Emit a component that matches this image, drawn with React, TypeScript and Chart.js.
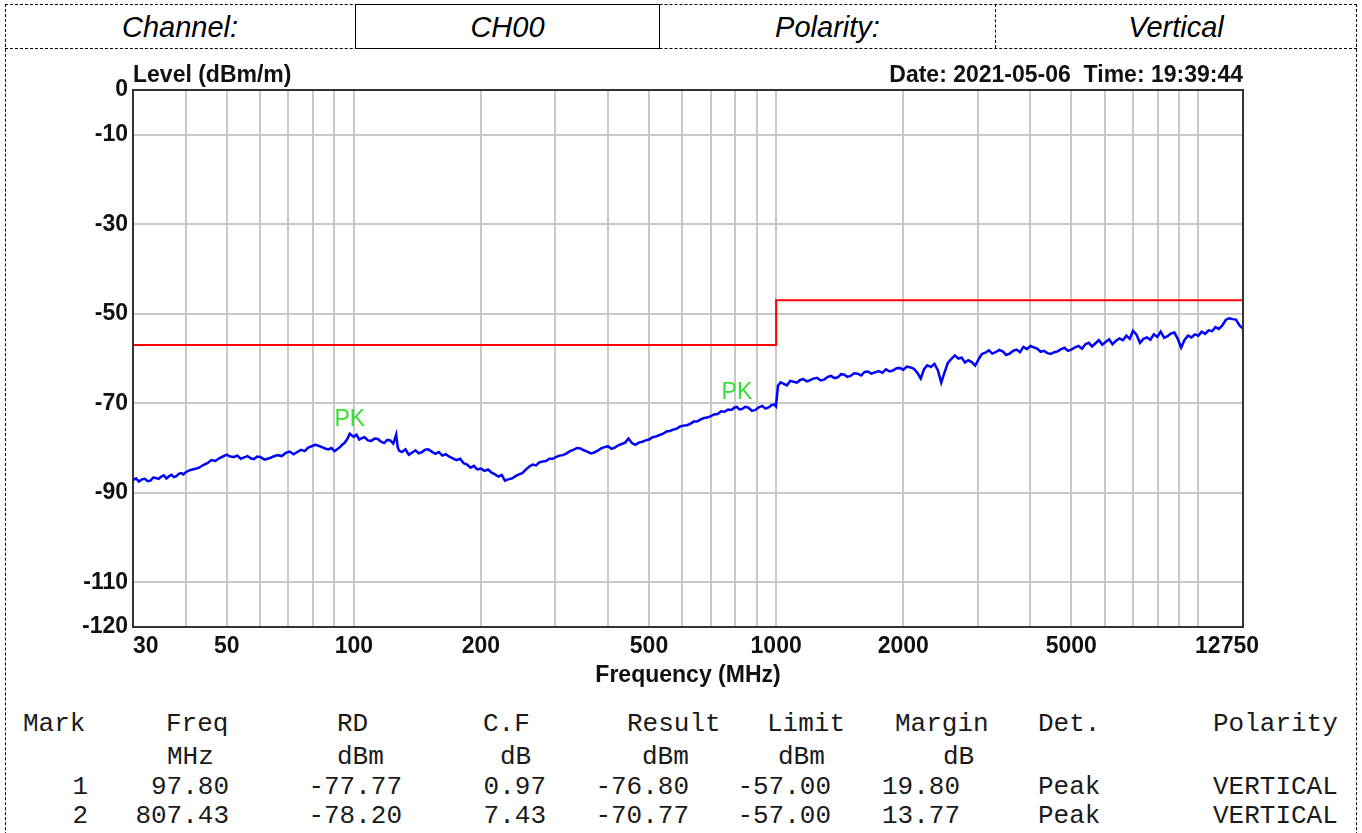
import React, { useEffect, useRef } from "react";
import { Chart, registerables } from "chart.js";

Chart.register(...registerables);

// ---------- data ----------
const headerCells = ["Channel:", "CH00", "Polarity:", "Vertical"];
const yAxisTitle = "Level (dBm/m)";
const xAxisTitle = "Frequency (MHz)";
const dateText = "Date: 2021-05-06  Time: 19:39:44";

const yTickValues = [-120, -110, -90, -70, -50, -30, -10, 0];
const xGridValues = [30, 40, 50, 60, 70, 80, 90, 100, 200, 300, 400, 500, 600, 700, 800, 900, 1000, 2000, 3000, 4000, 5000, 6000, 7000, 8000, 9000, 10000, 12750];
const xLabelValues = [30, 50, 100, 200, 500, 1000, 2000, 5000, 12750];

const limitFreqMHz = [30, 1000, 1000, 12750];
const limitLevel = [-57, -57, -47, -47];

const traceFreqMHz = [
  30, 30.5, 31, 31.5, 32, 32.5, 33, 33.5, 34, 34.5,
  35, 35.5, 36, 36.5, 37, 37.5, 38, 38.5, 39, 39.5,
  40, 41, 42, 43, 44, 45, 46, 47, 48, 49,
  50, 51, 52, 53, 54, 55, 56, 57, 58, 59,
  60, 61.5, 63, 64.5, 66, 67.5, 69, 70.5, 72, 73.5,
  75, 76.5, 78, 79.5, 81, 82.5, 84, 85.5, 87, 88.5,
  90, 91.5, 93, 94, 95, 96.5, 97.8, 99, 100, 101.5,
  103, 104.5, 106, 108, 110, 112, 114, 116, 118, 120,
  122, 124, 126, 127, 128, 130, 132.5, 135, 137.5, 140,
  142.5, 145, 147.5, 150, 153, 156, 159, 162, 165, 168,
  171.5, 175, 178.5, 182, 185.5, 189, 192.5, 196, 200, 204,
  208, 212, 216, 220, 224, 228, 232, 237, 241.5, 246,
  250.5, 255, 260, 265, 270, 275, 280, 285, 290.5, 296,
  301.5, 307, 313, 319, 325, 331, 337.5, 344, 350.5, 357,
  364, 371, 378, 385, 392.5, 400, 407.5, 415, 423, 431,
  439, 447, 455.5, 464, 473, 482, 491, 500, 510, 520,
  530, 540, 550, 560, 570.5, 581, 592, 603, 614.5, 626,
  638, 650, 662.5, 675, 687.5, 700, 713.5, 727, 741, 755,
  769.5, 784, 796, 807.43, 819, 830, 845, 860, 876.5, 893,
  910, 927, 944.5, 962, 976, 990, 999, 1010, 1025, 1040,
  1060, 1080, 1100, 1120, 1140, 1160, 1180, 1200, 1225, 1250,
  1275, 1300, 1325, 1350, 1375, 1400, 1425, 1450, 1475, 1500,
  1530, 1560, 1590, 1620, 1650, 1680, 1715, 1750, 1785, 1820,
  1855, 1890, 1925, 1960, 2000, 2040, 2080, 2120, 2160, 2200,
  2240, 2280, 2325, 2370, 2415, 2460, 2505, 2550, 2600, 2650,
  2700, 2750, 2800, 2850, 2905, 2960, 3015, 3070, 3130, 3190,
  3250, 3310, 3375, 3440, 3505, 3570, 3640, 3710, 3780, 3850,
  3925, 4000, 4075, 4150, 4230, 4310, 4390, 4470, 4555, 4640,
  4730, 4820, 4910, 5000, 5100, 5200, 5300, 5400, 5500, 5600,
  5705, 5810, 5920, 6030, 6145, 6260, 6380, 6500, 6625, 6750,
  6875, 7000, 7135, 7270, 7410, 7550, 7695, 7840, 7990, 8140,
  8295, 8450, 8610, 8770, 8935, 9100, 9275, 9450, 9630, 9810,
  9995, 10180, 10375, 10570, 10770, 10970, 11180, 11390, 11605, 11820,
  12045, 12270, 12510, 12750,
];
const traceLevel = [
  -87.2, -86.8, -87.5, -87.0, -86.9, -87.4, -87.3, -86.6, -86.7, -86.9,
  -86.4, -86.1, -86.8, -86.3, -86.0, -86.5, -86.3, -85.8, -85.6, -85.9,
  -85.4, -84.9, -84.7, -84.4, -83.8, -83.4, -82.7, -82.9, -82.3, -81.9,
  -81.5, -81.9, -82.0, -81.7, -82.4, -82.1, -81.8, -82.3, -82.5, -81.9,
  -82.0, -82.6, -82.3, -81.9, -81.6, -81.8, -81.1, -80.8, -81.4, -80.9,
  -80.4, -80.7, -79.9, -79.6, -79.3, -79.5, -79.8, -80.1, -80.3, -80.0,
  -80.7, -80.2, -79.7, -79.2, -78.9, -78.0, -76.8, -77.2, -77.5, -77.0,
  -78.1, -77.8, -77.6, -78.3, -78.4, -77.9, -78.0, -78.6, -78.9, -78.2,
  -78.3, -79.0, -77.0, -79.8, -80.6, -80.9, -80.3, -81.5, -81.0, -80.5,
  -81.2, -80.9, -80.4, -80.3, -80.8, -81.3, -80.9, -81.7, -81.4, -81.9,
  -82.3, -82.7, -82.4, -83.4, -83.7, -84.4, -84.0, -84.8, -84.6, -85.1,
  -84.8, -85.5, -85.9, -86.4, -86.0, -87.3, -87.0, -86.8, -86.3, -85.9,
  -85.6, -84.9, -84.2, -83.7, -83.9, -83.2, -83.0, -82.9, -82.4, -82.4,
  -82.0, -81.7, -81.6, -81.2, -80.7, -80.4, -80.0, -80.1, -80.5, -80.8,
  -81.2, -81.0, -80.6, -80.1, -79.8, -79.6, -80.2, -79.9, -79.4, -79.1,
  -78.8, -77.9, -78.9, -79.3, -78.8, -78.6, -78.3, -78.1, -77.6, -77.4,
  -77.1, -76.8, -76.3, -76.2, -75.9, -75.7, -75.2, -75.0, -74.9, -74.6,
  -74.1, -74.1, -73.6, -73.3, -73.2, -72.9, -72.5, -72.4, -71.8, -71.9,
  -71.4, -71.5, -71.0, -70.8, -71.4, -71.3, -70.8, -71.0, -71.7, -71.5,
  -70.9, -70.6, -71.2, -70.9, -70.4, -70.3, -70.7, -66.1, -65.3, -65.6,
  -66.0, -65.0, -65.2, -65.4, -64.8, -64.6, -65.1, -64.9, -64.5, -64.3,
  -64.9, -64.7, -64.1, -63.9, -64.4, -64.2, -63.5, -63.6, -64.1, -63.9,
  -63.3, -63.4, -63.8, -63.0, -62.9, -63.4, -63.1, -62.8, -63.2, -62.4,
  -62.9, -62.7, -62.2, -62.1, -62.5, -61.8, -62.0, -62.3, -63.2, -64.5,
  -62.4, -61.5, -61.9, -61.2, -62.6, -65.4, -63.1, -61.0, -60.1, -59.3,
  -60.0, -59.8, -60.9, -60.4, -60.8, -61.6, -60.2, -59.0, -58.7, -58.2,
  -58.9, -58.6, -58.1, -58.4, -59.2, -58.9, -58.3, -58.0, -58.6, -57.4,
  -57.9, -57.2, -57.5, -57.8, -58.5, -58.3, -58.8, -59.0, -58.6, -58.4,
  -57.9, -57.6, -58.3, -58.0, -57.5, -57.2, -57.8, -56.8, -56.5, -57.3,
  -56.6, -55.9, -56.9, -56.3, -55.7, -56.8, -56.0, -55.5, -55.9, -54.9,
  -55.6, -53.8, -54.7, -56.5, -55.6, -55.3, -55.8, -54.6, -55.2, -54.0,
  -55.4, -55.0, -54.4, -54.2, -55.6, -57.6, -55.8, -54.9, -55.3, -54.6,
  -54.9, -54.0, -54.5, -53.7, -53.9, -53.0, -53.4, -52.6, -51.4, -51.0,
  -51.2, -51.3, -52.6, -53.3,
];

const markLabel = ["PK", "PK"];
const markNo = [1, 2];
const markFreq = [97.8, 807.43];
const markRD = [-77.77, -78.2];
const markCF = [0.97, 7.43];
const markResult = [-76.8, -70.77];
const markLimit = [-57.0, -57.0];
const markMargin = [19.8, 13.77];
const markDet = ["Peak", "Peak"];
const markPolarity = ["VERTICAL", "VERTICAL"];

const tableHead = ["Mark", "Freq", "RD", "C.F", "Result", "Limit", "Margin", "Det.", "Polarity"];
const tableUnits = ["", "MHz", "dBm", "dB", "dBm", "dBm", "dB", "", ""];

// ---------- layout ----------
const SANS = '"Liberation Sans", Arial, Helvetica, sans-serif';
const MONO = '"Liberation Mono", "Courier New", monospace';
const AXIS_FONT = 23;
const headLefts = [23, 166, 337, 483, 627, 767, 895, 1038, 1213];
const unitLefts = [0, 167, 337, 500, 642, 778, 943, 0, 0];
const rowTops = [708, 741, 771, 800];
const cellBounds = [
  [5, 355],
  [355, 660],
  [660, 995],
  [995, 1357],
];

function xLabel(v: number): string {
  if (!xLabelValues.includes(v)) return "";
  if (v === 30) return "    30";
  if (v === 12750) return "12750     ";
  return String(v);
}

const framePlugin = {
  id: "frameAndTexts",
  afterDatasetsDraw(chart: any) {
    const { ctx, chartArea: a, scales } = chart;
    ctx.save();
    ctx.strokeStyle = "#333333";
    ctx.lineWidth = 2;
    ctx.strokeRect(a.left, a.top, a.right - a.left, a.bottom - a.top);

    ctx.font = `bold ${AXIS_FONT}px ${SANS}`;
    ctx.fillStyle = "#111111";
    ctx.textBaseline = "alphabetic";
    ctx.textAlign = "left";
    ctx.fillText(yAxisTitle, a.left, a.top - 8);
    ctx.textAlign = "right";
    ctx.fillText(dateText, a.right, a.top - 8);

    ctx.font = `23px ${SANS}`;
    ctx.fillStyle = "#33e033";
    ctx.textAlign = "center";
    markFreq.forEach((f, i) => {
      const x = scales.x.getPixelForValue(f);
      const y = scales.y.getPixelForValue(markResult[i]);
      ctx.fillText(markLabel[i], x, y - 8);
    });
    ctx.restore();
  },
};

const gridColor = (edgeValues: number[]) => (ctx: any) =>
  ctx.tick && edgeValues.includes(ctx.tick.value) ? "rgba(0,0,0,0)" : "#c8c8c8";

export default function App() {
  const ref = useRef<HTMLCanvasElement>(null);

  useEffect(() => {
    const canvas = ref.current;
    if (!canvas) return;
    Chart.defaults.font.family = SANS;
    const chart = new Chart(canvas, {
      type: "line",
      data: {
        datasets: [
          {
            label: "Limit",
            data: limitFreqMHz.map((f, i) => ({ x: f, y: limitLevel[i] })),
            borderColor: "#ff0000",
            borderWidth: 2,
            pointRadius: 0,
            tension: 0,
          },
          {
            label: "Level",
            data: traceFreqMHz.map((f, i) => ({ x: f, y: traceLevel[i] })),
            borderColor: "#0000ff",
            borderWidth: 2.5,
            pointRadius: 0,
            tension: 0,
          },
        ],
      },
      options: {
        animation: false,
        responsive: false,
        maintainAspectRatio: false,
        devicePixelRatio: 1,
        layout: { padding: { left: 0, right: 119, top: 90, bottom: 0 } },
        plugins: {
          legend: { display: false },
          tooltip: { enabled: false },
          title: { display: false },
        },
        scales: {
          x: {
            type: "logarithmic",
            min: 30,
            max: 12750,
            afterBuildTicks: (s: any) => {
              s.ticks = xGridValues.map((v) => ({ value: v }));
            },
            afterFit: (s: any) => {
              s.height = 73;
            },
            ticks: {
              autoSkip: false,
              maxRotation: 0,
              minRotation: 0,
              padding: 6,
              color: "#111111",
              font: { size: AXIS_FONT, weight: "bold" },
              callback: (v: any) => xLabel(Number(v)),
            },
            grid: { color: gridColor([30, 12750]), lineWidth: 2, drawTicks: false },
            border: { display: false },
            title: {
              display: true,
              text: xAxisTitle,
              color: "#111111",
              font: { size: AXIS_FONT, weight: "bold" },
              padding: { top: 0, bottom: 11 },
            },
          },
          y: {
            type: "linear",
            min: -120,
            max: 0,
            afterBuildTicks: (s: any) => {
              s.ticks = yTickValues.map((v) => ({ value: v }));
            },
            afterFit: (s: any) => {
              s.width = 133;
            },
            ticks: {
              autoSkip: false,
              padding: 5,
              color: "#111111",
              font: { size: AXIS_FONT, weight: "bold" },
              callback: (v: any) => String(v),
            },
            grid: { color: gridColor([0, -120]), lineWidth: 2, drawTicks: false },
            border: { display: false },
          },
        },
      },
      plugins: [framePlugin],
    } as any);
    return () => chart.destroy();
  }, []);

  const monoBase: React.CSSProperties = {
    position: "absolute",
    fontFamily: MONO,
    fontSize: 26,
    lineHeight: "32px",
    color: "#1a1a1a",
    whiteSpace: "pre",
  };
  const leftCell = (text: string, left: number, top: number, key: string) => (
    <div key={key} style={{ ...monoBase, left, top }}>
      {text}
    </div>
  );
  const rightCell = (text: string, right: number, top: number, key: string) => (
    <div key={key} style={{ ...monoBase, left: right, top, transform: "translateX(-100%)" }}>
      {text}
    </div>
  );

  return (
    <div
      style={{
        position: "absolute",
        left: 0,
        top: 0,
        width: 1362,
        height: 833,
        overflow: "hidden",
        background: "#ffffff",
      }}
    >
      {/* page frame */}
      <div
        style={{
          position: "absolute",
          left: 5,
          top: 4,
          width: 1350,
          height: 900,
          borderTop: "1px dashed #000",
          borderLeft: "1px dashed #000",
          borderRight: "1px dashed #000",
        }}
      />
      <div style={{ position: "absolute", left: 5, top: 48, width: 1352, height: 0, borderTop: "1px dashed #000" }} />
      <div
        style={{
          position: "absolute",
          left: 355,
          top: 4,
          width: 305,
          height: 45,
          border: "1.5px solid #000",
          boxSizing: "border-box",
        }}
      />
      <div style={{ position: "absolute", left: 995, top: 4, width: 0, height: 44, borderLeft: "1px dashed #000" }} />
      {headerCells.map((t, i) => (
        <div
          key={"h" + i}
          style={{
            position: "absolute",
            left: cellBounds[i][0],
            width: cellBounds[i][1] - cellBounds[i][0],
            top: 5,
            height: 45,
            display: "flex",
            alignItems: "center",
            justifyContent: "center",
            fontFamily: SANS,
            fontStyle: "italic",
            fontSize: 29,
            color: "#000",
          }}
        >
          {t}
        </div>
      ))}

      <canvas
        ref={ref}
        width={1362}
        height={700}
        style={{ position: "absolute", left: 0, top: 0, width: 1362, height: 700, display: "block" }}
      />

      {/* data table */}
      {tableHead.map((t, i) => leftCell(t, headLefts[i], rowTops[0], "th" + i))}
      {tableUnits.map((t, i) => (t ? leftCell(t, unitLefts[i], rowTops[1], "tu" + i) : null))}
      {markNo.map((n, r) => {
        const top = rowTops[2 + r];
        return [
          rightCell(String(n), 88, top, "n" + r),
          rightCell(markFreq[r].toFixed(2), 229, top, "f" + r),
          rightCell(markRD[r].toFixed(2), 402, top, "rd" + r),
          rightCell(markCF[r].toFixed(2), 546, top, "cf" + r),
          rightCell(markResult[r].toFixed(2), 689, top, "rs" + r),
          rightCell(markLimit[r].toFixed(2), 831, top, "lm" + r),
          rightCell(markMargin[r].toFixed(2), 960, top, "mg" + r),
          leftCell(markDet[r], 1038, top, "dt" + r),
          leftCell(markPolarity[r], 1213, top, "pl" + r),
        ];
      })}
    </div>
  );
}
